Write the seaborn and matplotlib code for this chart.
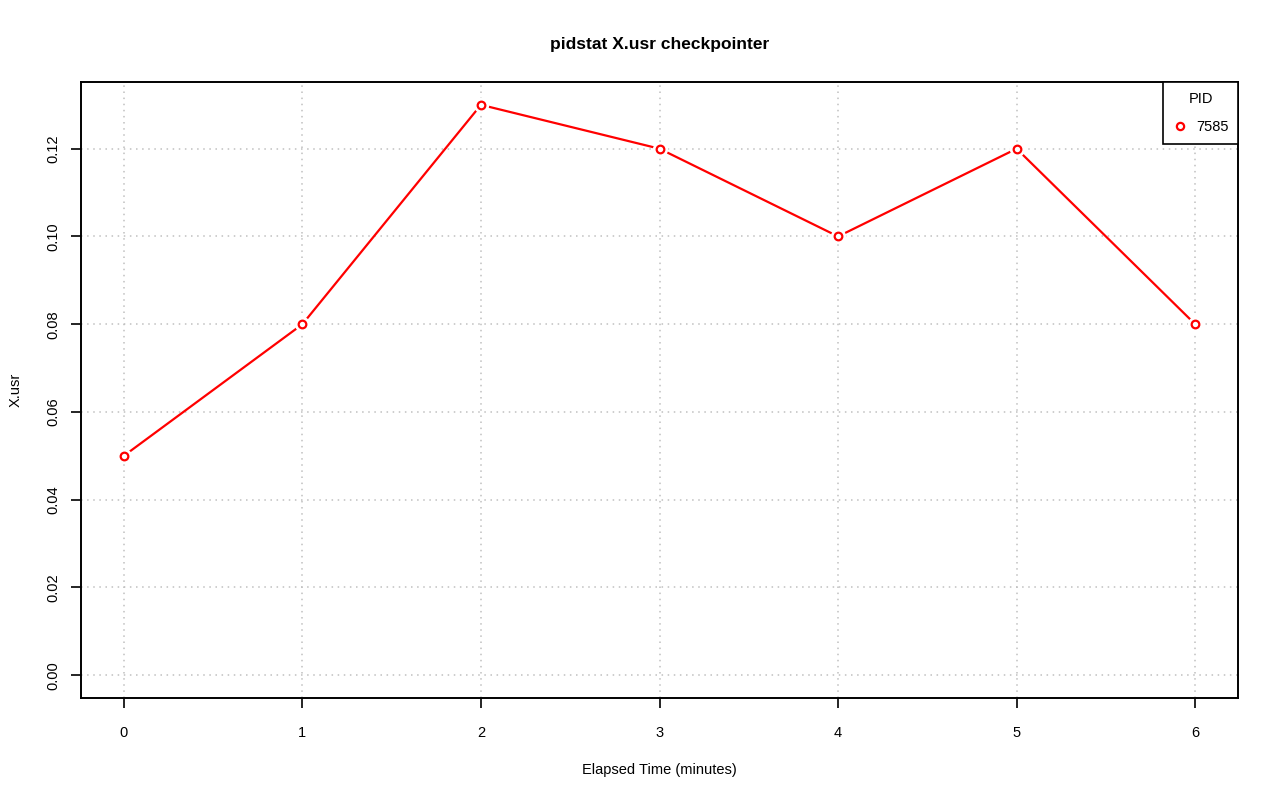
import numpy as np
import pandas as pd
import matplotlib
matplotlib.use("Agg")
import matplotlib.pyplot as plt
import seaborn as sns

minutes = [0, 1, 2, 3, 4, 5, 6]
usr = [0.05, 0.08, 0.13, 0.12, 0.10, 0.12, 0.08]
pid = "7585"
xticks = [0, 1, 2, 3, 4, 5, 6]
yticks = [0.00, 0.02, 0.04, 0.06, 0.08, 0.10, 0.12]

df = pd.DataFrame({"minutes": minutes, "usr": usr, "PID": pid})

sns.set_style("white")
plt.rcParams["font.family"] = ["Liberation Sans", "DejaVu Sans"]
plt.rcParams["text.color"] = "black"
plt.rcParams["axes.labelcolor"] = "black"

fig = plt.figure(figsize=(12.8, 8.01), dpi=100)
ax = fig.add_axes([0.0633, 0.1286, 0.9039, 0.769])

# line with gaps at the points (R type="b")
sns.lineplot(data=df, x="minutes", y="usr", hue="PID", palette=["red"],
             linewidth=1.6, ax=ax, legend=False, zorder=2)
ax.plot(df["minutes"], df["usr"], linestyle="none", marker="o", markersize=11,
        markerfacecolor="white", markeredgecolor="none", zorder=3)
ax.plot(df["minutes"], df["usr"], linestyle="none", marker="o", markersize=5.5,
        markerfacecolor="white", markeredgecolor="red", markeredgewidth=1.6,
        zorder=4, label=pid)

ax.set_xlim(-0.24, 6.24)
ax.set_ylim(-0.0052, 0.1352)
ax.set_xticks(xticks)
ax.set_xticklabels([str(t) for t in xticks])
ax.set_yticks(yticks)
ax.set_yticklabels([f"{t:.2f}" for t in yticks], rotation=90, va="center")

ax.grid(True, color="#c0c0c0", linestyle=(0, (1, 3)), linewidth=1.1)
ax.set_axisbelow(True)
for s in ax.spines.values():
    s.set_color("black")
    s.set_linewidth(1.4)

ax.tick_params(axis="both", which="major", direction="out", length=7, width=1.2,
               labelsize=10.5, colors="black", pad=8, bottom=True, left=True)
ax.tick_params(axis="x", pad=13)

ax.set_xlabel("Elapsed Time (minutes)", fontsize=10.5, labelpad=17)
ax.set_ylabel("X.usr", fontsize=10.5, labelpad=17)
ax.set_title("pidstat X.usr checkpointer", fontsize=12.5, fontweight="bold",
             pad=24, color="black")

leg = ax.legend(title="PID", loc="upper right", bbox_to_anchor=(1.0, 1.0),
                frameon=True, fancybox=False, framealpha=1, borderaxespad=0,
                fontsize=10.5, title_fontsize=10.5, handlelength=1.0,
                handletextpad=0.6, borderpad=0.65, labelspacing=1.0,
                markerscale=0.95)
leg.get_frame().set_edgecolor("black")
leg.get_frame().set_linewidth(1.2)

fig.savefig("out.png", dpi=100, facecolor="white")
